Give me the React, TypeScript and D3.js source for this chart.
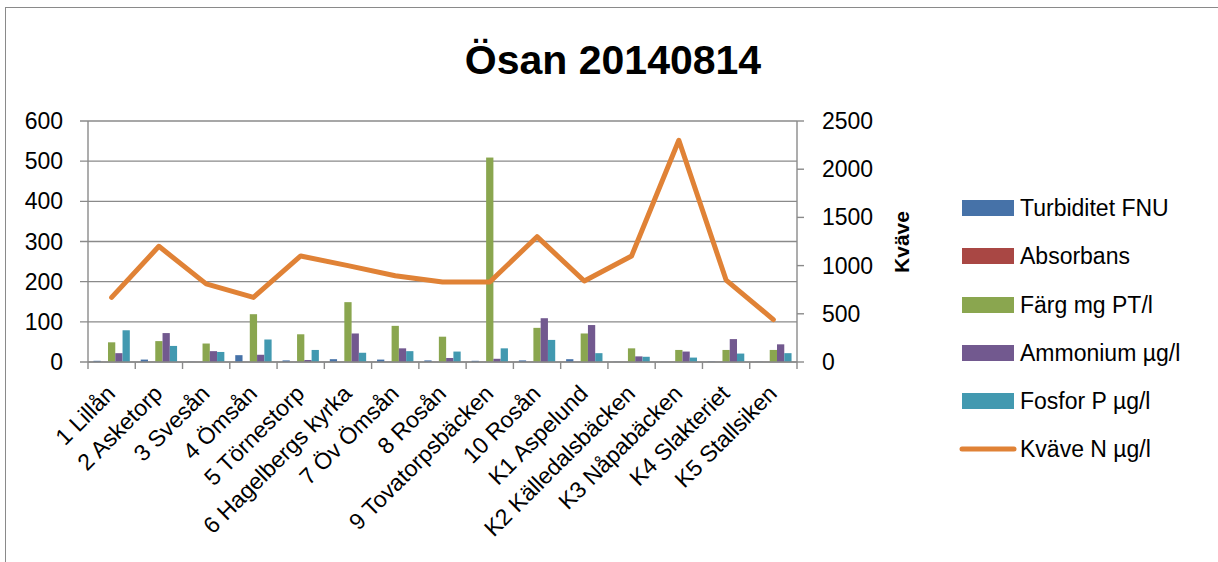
import React from "react";
import * as d3 from "d3";

const categories = [
  "1 Lillån", "2 Asketorp", "3 Svesån", "4 Ömsån", "5 Törnestorp",
  "6 Hagelbergs kyrka", "7 Öv Ömsån", "8 Rosån", "9 Tovatorpsbäcken", "10 Rosån",
  "K1 Aspelund", "K2 Källedalsbäcken", "K3 Nåpabäcken", "K4 Slakteriet", "K5 Stallsiken",
];
const turbiditet = [3, 6, 0.5, 17, 4, 7, 6, 4, 3, 4, 7, 0.5, 0.3, 1, 0.5];
const absorbans = [0.2, 0.2, 0.2, 0.2, 0.2, 0.2, 0.2, 0.2, 0.2, 0.2, 0.2, 0.2, 0.2, 0.2, 0.2];
const farg = [49, 52, 46, 119, 69, 149, 90, 63, 509, 85, 71, 34, 30, 30, 30];
const ammonium = [22, 72, 27, 18, 5, 71, 34, 10, 8, 109, 92, 14, 26, 57, 44];
const fosfor = [79, 40, 25, 56, 30, 23, 27, 26, 34, 55, 22, 13, 11, 21, 22];
const kvave = [670, 1200, 810, 670, 1100, 1000, 895, 830, 830, 1300, 840, 1100, 2300, 850, 440];

const barSeries = [
  { name: "Turbiditet FNU", values: turbiditet, color: "#4672A8" },
  { name: "Absorbans", values: absorbans, color: "#A94744" },
  { name: "Färg mg PT/l", values: farg, color: "#8AA64F" },
  { name: "Ammonium µg/l", values: ammonium, color: "#72598F" },
  { name: "Fosfor P µg/l", values: fosfor, color: "#4299B0" },
];
const lineName = "Kväve N µg/l";
const lineColor = "#E08236";
const leftTicks = [0, 100, 200, 300, 400, 500, 600];
const rightTicks = [0, 500, 1000, 1500, 2000, 2500];
const title = "Ösan 20140814";
const rightAxisTitle = "Kväve";

const W = 1218;
const H = 562;
const plot = { left: 88, right: 797, top: 121, bottom: 362 };
const font = "'Liberation Sans', Arial, sans-serif";
const gridColor = "#8a8a8a";

export default function App() {
  const x = d3.scaleBand<string>().domain(categories).range([plot.left, plot.right]).paddingInner(0).paddingOuter(0);
  const xi = d3
    .scaleBand<string>()
    .domain(barSeries.map((s) => s.name))
    .range([0, x.bandwidth()])
    .paddingInner(0)
    .paddingOuter(0.75);
  const yL = d3.scaleLinear().domain([0, 600]).range([plot.bottom, plot.top]);
  const yR = d3.scaleLinear().domain([0, 2500]).range([plot.bottom, plot.top]);
  const line = d3
    .line<number>()
    .x((_, i) => (x(categories[i]) as number) + x.bandwidth() / 2)
    .y((d) => yR(d));

  const legendX = 962;
  const legendRows = [208, 256, 305, 353, 401, 449];

  return (
    <svg width={W} height={H} style={{ position: "absolute", left: 0, top: 0 }} fontFamily={font}>
      <rect x={0} y={0} width={W} height={H} fill="#fff" />
      <line x1={5} x2={W} y1={7.5} y2={7.5} stroke="#8a8a8a" strokeWidth={1} />
      <line x1={5.5} x2={5.5} y1={7.5} y2={H} stroke="#8a8a8a" strokeWidth={1} />
      <text x={613} y={74} textAnchor="middle" fontSize={41} fontWeight="bold" fill="#000">
        {title}
      </text>

      {/* gridlines */}
      {leftTicks.map((t) => (
        <line key={"g" + t} x1={plot.left - 8} x2={plot.right} y1={yL(t)} y2={yL(t)} stroke={gridColor} strokeWidth={1.4} />
      ))}
      {/* left axis */}
      <line x1={plot.left} x2={plot.left} y1={plot.top} y2={plot.bottom} stroke={gridColor} strokeWidth={1.4} />
      {leftTicks.map((t) => (
        <text key={"l" + t} x={63} y={yL(t)} dy="0.35em" textAnchor="end" fontSize={23} fill="#000">
          {t}
        </text>
      ))}
      {/* right axis */}
      <line x1={plot.right} x2={plot.right} y1={plot.top} y2={plot.bottom} stroke={gridColor} strokeWidth={1.4} />
      {rightTicks.map((t) => (
        <g key={"r" + t}>
          <line x1={plot.right} x2={plot.right + 7} y1={yR(t)} y2={yR(t)} stroke={gridColor} strokeWidth={1.4} />
          <text x={822} y={yR(t)} dy="0.35em" textAnchor="start" fontSize={23} fill="#000">
            {t}
          </text>
        </g>
      ))}
      <text
        transform={`translate(${909},${242}) rotate(-90)`}
        textAnchor="middle"
        fontSize={21}
        fontWeight="bold"
        fill="#000"
      >
        {rightAxisTitle}
      </text>

      {/* bars */}
      {barSeries.map((s) =>
        s.values.map((v, i) => {
          const bx = (x(categories[i]) as number) + (xi(s.name) as number);
          return (
            <rect
              key={s.name + i}
              x={bx}
              y={yL(v)}
              width={xi.bandwidth()}
              height={plot.bottom - yL(v)}
              fill={s.color}
            />
          );
        })
      )}

      {/* bottom axis */}
      <line x1={plot.left} x2={plot.right} y1={plot.bottom} y2={plot.bottom} stroke={gridColor} strokeWidth={1.4} />
      {categories.concat([""]).map((c, i) => {
        const px = plot.left + i * x.step();
        return <line key={"t" + i} x1={px} x2={px} y1={plot.bottom} y2={plot.bottom + 7} stroke={gridColor} strokeWidth={1.4} />;
      })}
      {categories.map((c) => {
        const cx = (x(c) as number) + x.bandwidth() / 2 + 5;
        return (
          <text key={"x" + c} transform={`translate(${cx},${395}) rotate(-45)`} textAnchor="end" fontSize={23} fill="#000">
            {c}
          </text>
        );
      })}

      {/* line */}
      <path d={line(kvave) || ""} fill="none" stroke={lineColor} strokeWidth={5} strokeLinejoin="round" strokeLinecap="round" />

      {/* legend */}
      {barSeries.map((s, i) => (
        <g key={"lg" + s.name}>
          <rect x={legendX} y={legendRows[i] - 8} width={52} height={16} fill={s.color} />
          <text x={1020} y={legendRows[i]} dy="0.35em" fontSize={23} fill="#000">
            {s.name}
          </text>
        </g>
      ))}
      <line x1={legendX} x2={legendX + 52} y1={legendRows[5]} y2={legendRows[5]} stroke={lineColor} strokeWidth={5} strokeLinecap="round" />
      <text x={1020} y={legendRows[5]} dy="0.35em" fontSize={23} fill="#000">
        {lineName}
      </text>
    </svg>
  );
}
